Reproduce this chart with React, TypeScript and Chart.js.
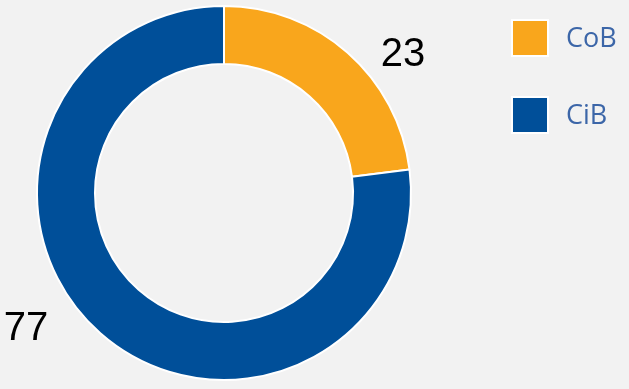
import React, { useEffect, useRef } from "react";
import { Chart, registerables } from "chart.js";

Chart.register(...registerables);

const categories = ["CoB", "CiB"];
const values = [23, 77];
const colors = ["#F9A61C", "#004F99"];

const labelPlugin = {
  id: "outerLabels",
  afterDatasetsDraw(chart: any) {
    const ctx = chart.ctx;
    const meta = chart.getDatasetMeta(0);
    ctx.save();
    ctx.font = "40px 'Liberation Sans', Arial, sans-serif";
    ctx.fillStyle = "#000000";
    ctx.textBaseline = "alphabetic";
    meta.data.forEach((arc: any, i: number) => {
      const { x, y, outerRadius, startAngle, endAngle } = arc.getProps(
        ["x", "y", "outerRadius", "startAngle", "endAngle"],
        true
      );
      const mid = (startAngle + endAngle) / 2;
      const ax = x + Math.cos(mid) * outerRadius;
      const ay = y + Math.sin(mid) * outerRadius;
      const txt = String(chart.data.datasets[0].data[i]);
      if (ax >= x) {
        ctx.textAlign = "left";
        ctx.fillText(txt, ax + 33, ay + 13);
      } else {
        ctx.textAlign = "right";
        ctx.fillText(txt, ax - 52, ay + 7);
      }
    });
    ctx.restore();
  },
};

const legendPlugin = {
  id: "customLegend",
  afterDraw(chart: any) {
    const ctx = chart.ctx;
    const ds = chart.data.datasets[0];
    ctx.save();
    chart.data.labels.forEach((lab: string, i: number) => {
      const bx = 511;
      const by = 19 + i * 77;
      ctx.fillStyle = "#ffffff";
      ctx.fillRect(bx, by, 38, 38);
      ctx.fillStyle = ds.backgroundColor[i];
      ctx.fillRect(bx + 2, by + 2, 34, 34);
      ctx.font = "27px 'Open Sans', sans-serif";
      ctx.fillStyle = "#3C66A8";
      ctx.textAlign = "left";
      ctx.textBaseline = "alphabetic";
      ctx.fillText(lab, 566, by + 28);
    });
    ctx.restore();
  },
};

export default function App() {
  const ref = useRef<HTMLCanvasElement | null>(null);
  useEffect(() => {
    document.body.style.margin = "0";
    const chart = new Chart(ref.current!, {
      type: "doughnut",
      data: {
        labels: categories,
        datasets: [
          {
            data: values,
            backgroundColor: colors,
            borderColor: "#ffffff",
            borderWidth: 2,
          },
        ],
      },
      options: {
        animation: false,
        responsive: false,
        cutout: "69%",
        layout: { padding: { left: 36, right: 217, top: 5, bottom: 8 } },
        plugins: {
          legend: { display: false },
          tooltip: { enabled: false },
        },
      },
      plugins: [labelPlugin, legendPlugin],
    });
    return () => chart.destroy();
  }, []);
  return (
    <div
      style={{
        position: "fixed",
        left: 0,
        top: 0,
        width: 629,
        height: 389,
        background: "#F2F2F2",
      }}
    >
      <canvas ref={ref} width={629} height={389} style={{ display: "block" }} />
    </div>
  );
}
